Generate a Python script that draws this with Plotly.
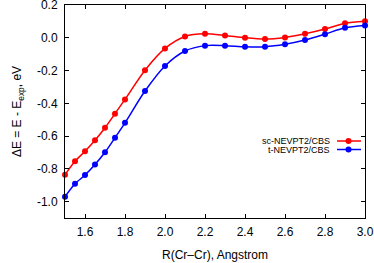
import plotly.graph_objects as go

r_values = [1.5, 1.55, 1.6, 1.65, 1.7, 1.75, 1.8, 1.9, 2.0, 2.1, 2.2, 2.3, 2.4, 2.5, 2.6, 2.7, 2.8, 2.9, 3.0]
sc_nevpt2 = [-0.836, -0.754, -0.693, -0.626, -0.549, -0.463, -0.376, -0.198, -0.065, 0.008, 0.024, 0.014, 0.0, -0.008, 0.002, 0.024, 0.053, 0.089, 0.101]
t_nevpt2 = [-0.970, -0.891, -0.838, -0.774, -0.699, -0.610, -0.519, -0.325, -0.172, -0.081, -0.048, -0.048, -0.055, -0.055, -0.040, -0.014, 0.022, 0.061, 0.075]

series_names = ["sc-NEVPT2/CBS", "t-NEVPT2/CBS"]
x_tickvals = [1.6, 1.8, 2.0, 2.2, 2.4, 2.6, 2.8, 3.0]
x_ticktext = ["1.6", "1.8", "2.0", "2.2", "2.4", "2.6", "2.8", "3.0"]
y_tickvals = [0.2, 0.0, -0.2, -0.4, -0.6, -0.8, -1.0]
y_ticktext = ["0.2", "0.0", "-0.2", "-0.4", "-0.6", "-0.8", "-1.0"]
colors = ["#ff0000", "#0000ff"]

FONT = "Liberation Sans, Arial, sans-serif"

# plot area in pixels (for placing the gnuplot-style key)
PL, PR, PT, PB = 65, 365, 5, 218
PW, PH = PR - PL, PB - PT

fig = go.Figure()
for name, ys, c in zip(series_names, [sc_nevpt2, t_nevpt2], colors):
    fig.add_trace(go.Scatter(
        x=r_values, y=ys, name=name, mode="lines+markers",
        line=dict(color=c, width=1.5, shape="spline", smoothing=0.8),
        marker=dict(color=c, size=6),
        showlegend=False, cliponaxis=False,
    ))

# gnuplot-style key: text right-aligned, sample on the right
legend_rows_y = [141, 149.5]
for i, (name, c) in enumerate(zip(series_names, colors)):
    yd = 1 - (legend_rows_y[i] - PT) / PH
    fig.add_annotation(x=(332 - PL) / PW, y=yd, xref="x domain", yref="y domain", text=name,
                       showarrow=False, xanchor="right", yanchor="middle",
                       font=dict(family=FONT, size=9, color="black"))
    fig.add_shape(type="line", xref="x domain", yref="y domain",
                  x0=(337 - PL) / PW, x1=(361 - PL) / PW, y0=yd, y1=yd,
                  line=dict(color=c, width=1.5))
    xm = (348.5 - PL) / PW
    fig.add_shape(type="circle", xref="x domain", yref="y domain",
                  x0=xm - 3 / PW, x1=xm + 3 / PW, y0=yd - 3 / PH, y1=yd + 3 / PH,
                  fillcolor=c, line=dict(color=c, width=0))

axis_common = dict(showline=True, linecolor="black", linewidth=1, mirror="ticks",
                   ticks="inside", ticklen=4, tickcolor="black", showgrid=False,
                   zeroline=False, automargin=False, ticklabeloverflow="allow",
                   tickfont=dict(family=FONT, size=12, color="black"))

fig.update_layout(
    width=374, height=263,
    margin=dict(l=PL, r=374 - PR, t=PT, b=263 - PB),
    paper_bgcolor="white", plot_bgcolor="white",
    font=dict(family=FONT, size=12, color="black"),
    xaxis=dict(range=[1.5, 3.0], tickvals=x_tickvals, ticktext=x_ticktext,
               ticklabelstandoff=3,
               title=dict(text="R(Cr\u2013Cr), Angstrom", font=dict(family=FONT, size=12), standoff=12),
               **axis_common),
    yaxis=dict(range=[-1.1, 0.2], tickvals=y_tickvals, ticktext=y_ticktext,
               ticklabelstandoff=4,
               title=dict(text="\u0394E = E - E<sub>exp</sub>, eV", font=dict(family=FONT, size=12), standoff=12),
               **axis_common),
)

fig.write_html("out.html", config={"displayModeBar": False},
               post_script="document.body.style.margin='0';document.body.style.overflow='hidden';")
